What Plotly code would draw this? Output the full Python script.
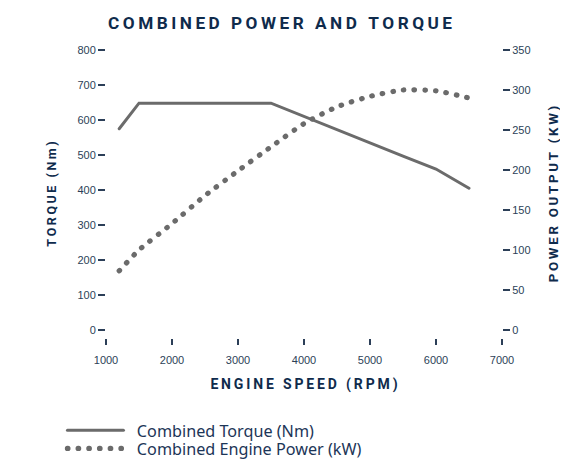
import plotly.graph_objects as go

rpm_torque = [1200, 1500, 3500, 4000, 4500, 5000, 5500, 6000, 6500]
torque_nm = [575, 648, 648, 610, 572, 533, 497, 460, 405]

rpm_power = [1200, 1500, 2000, 2500, 3000, 3500, 4000, 4500, 5000, 5500, 6000, 6500]
power_kw = [74, 100, 133, 168, 199, 229, 258, 279, 292, 300, 299, 290]

x_ticks = [1000, 2000, 3000, 4000, 5000, 6000, 7000]
torque_ticks = [0, 100, 200, 300, 400, 500, 600, 700, 800]
power_ticks = [0, 50, 100, 150, 200, 250, 300, 350]

NAVY = "#0f2b4c"
TICK = "#2c3f58"
GREY = "#6b6b6b"
TS = "\u2009"
NB = "\u00a0"


def spaced(s):
    return TS.join(list(s))


fig = go.Figure()
fig.add_trace(go.Scatter(
    x=rpm_torque, y=torque_nm, mode="lines", name=NB * 2 + "Combined Torque (Nm)",
    line=dict(color=GREY, width=3), yaxis="y", legend="legend"))
fig.add_trace(go.Scatter(
    x=rpm_power, y=power_kw, mode="lines", name=NB * 2 + "Combined Engine Power (kW)",
    line=dict(color=GREY, width=5.2, dash="0.5px,10.2px", shape="spline", smoothing=0.6),
    yaxis="y2", legend="legend2"))

tickfont = dict(family="Liberation Sans, Arial, sans-serif", size=11, color=TICK)
xtitlefont = dict(family="Roboto, sans-serif", size=14, color=NAVY, weight="bold")
y1titlefont = dict(family="Roboto, sans-serif", size=12.5, color=NAVY, weight="bold")
y2titlefont = dict(family="Roboto, sans-serif", size=13.3, color=NAVY, weight="bold")
legfont = dict(family="Noto Sans, sans-serif", size=16.2, color="#1c3557")

fig.update_layout(
    width=568, height=460,
    margin=dict(l=98, r=74, t=42, b=130, autoexpand=False),
    paper_bgcolor="white", plot_bgcolor="white",
    title=dict(text=spaced("COMBINED POWER AND TORQUE"), x=0.479, xanchor="center",
               y=0.968, yanchor="middle",
               font=dict(family="Roboto, sans-serif", size=17.2, color=NAVY, weight="bold")),
    xaxis=dict(range=[1000, 7000], tickvals=x_ticks, ticktext=[str(v) for v in x_ticks],
               ticks="outside", ticklen=6, tickwidth=1.5, tickcolor=TICK,
               showgrid=False, zeroline=False, showline=False, automargin=False,
               tickfont=tickfont, ticklabelstandoff=6,
               title=dict(text=spaced("ENGINE SPEED (RPM)"), font=xtitlefont, standoff=13)),
    yaxis=dict(range=[-23, 800], tickvals=torque_ticks, ticksuffix=NB * 2,
               ticks="outside", ticklen=7, tickwidth=1.5, tickcolor=TICK,
               showgrid=False, zeroline=False, showline=False, automargin=False,
               tickfont=tickfont,
               title=dict(text=spaced("TORQUE (Nm)"), font=y1titlefont, standoff=18)),
    yaxis2=dict(range=[-10, 350], tickvals=power_ticks, overlaying="y", side="right",
                tickprefix=NB,
                ticks="outside", ticklen=7, tickwidth=1.5, tickcolor=TICK,
                showgrid=False, zeroline=False, showline=False, automargin=False,
                tickfont=tickfont,
                title=dict(text=spaced("POWER OUTPUT (KW)"), font=y2titlefont, standoff=19)),
    legend=dict(x=-0.11, y=-0.322, xanchor="left", yanchor="middle",
                itemwidth=56, font=legfont, bgcolor="rgba(0,0,0,0)"),
    legend2=dict(x=-0.11, y=-0.385, xanchor="left", yanchor="middle",
                 itemwidth=56, font=legfont, bgcolor="rgba(0,0,0,0)"),
    showlegend=True,
)

post = """
var gd = document.getElementById('{plot_id}');
function roundCaps(){
  gd.querySelectorAll('path.js-line').forEach(function(p){
    p.style.strokeLinecap = 'round';
  });
}
roundCaps();
gd.on('plotly_afterplot', roundCaps);
"""

fig.write_html("out.html", post_script=post)
